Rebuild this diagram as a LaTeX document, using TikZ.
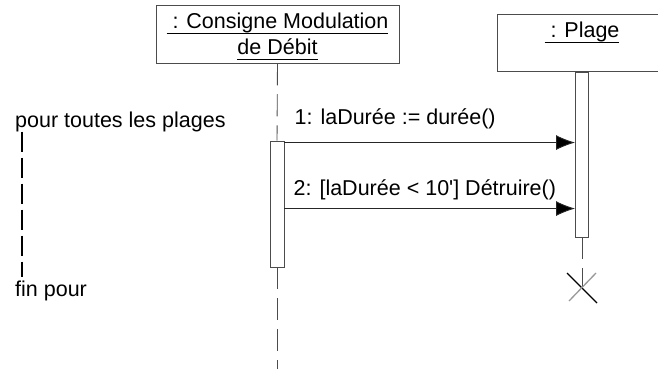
\documentclass[tikz,border=0pt]{standalone}
\usepackage{fontspec}
\setmainfont{Liberation Sans}
\usepackage{tikz}
\usetikzlibrary{calc,positioning}
\usetikzlibrary{arrows.meta}
\newcommand{\objul}[1]{\underline{\raisebox{0pt}[\height][3pt]{#1}}}
\tikzset{
object_box/.style={rectangle, draw=black!70, line width=0.9pt, align=center, inner sep=0pt, font=\fontsize{21.5}{26}\selectfont},
activation/.style={rectangle, draw=black!70, line width=0.9pt, fill=white, inner sep=0pt},
lifeline/.style={draw=black!70, line width=0.9pt, dash pattern=on 22pt off 9pt},
message/.style={draw=black!85, line width=0.9pt, -{Latex[length=19pt,width=15pt,fill=black]}},
msg_label/.style={inner sep=0pt, font=\fontsize{21.5}{26}\selectfont},
loop_text/.style={inner sep=0pt, anchor=west, font=\fontsize{21.5}{26}\selectfont},
loop_line/.style={draw=black, line width=1.4pt, dash pattern=on 20pt off 6pt},
destroy/.style={draw=black, line width=1.3pt}
}

\begin{document}
\begin{tikzpicture}[x=1pt,y=-1pt]
    \useasboundingbox (0,0) rectangle (658,369);
    \node[object_box, minimum width=243pt, minimum height=58pt] (consigne) at (277.5,34) {\rule{0pt}{21pt}\objul{\ : Consigne Modulation}\\\objul{de Débit}};
    \node[object_box, minimum width=170pt, minimum height=57pt, text depth=27pt] (plage) at (582,43.4) {\objul{\ : Plage}};
    \node[activation, minimum width=14pt, minimum height=126pt] (act_consigne) at (277,204) {};
    \node[activation, minimum width=13pt, minimum height=165pt] (act_plage) at (582,154.5) {};
    \coordinate (consigne_end) at (277,369);
    \coordinate (plage_end) at (582,288);
    \draw[lifeline] (consigne.south) -- (act_consigne.north);
    \draw[lifeline] (act_consigne.south) -- (consigne_end);
    \draw[lifeline] (act_plage.south) -- (plage_end);
    \draw[destroy] ($(plage_end)+(-15,-15)$) -- ($(plage_end)+(15,15)$);
    \draw[destroy, draw=black!40] ($(plage_end)+(-13,13)$) -- ($(plage_end)+(14,-15)$);
    \coordinate (msg_one) at ([yshift=-2pt]act_consigne.north east);
    \coordinate (msg_two) at ([yshift=-68pt]act_consigne.north east);
    \draw[message] (msg_one) -- (msg_one -| act_plage.west);
    \draw[message] (msg_two) -- (msg_two -| act_plage.west);
    \node[msg_label, above right=13pt and 10pt of msg_one] (label_one) {1: laDurée := durée()};
    \node[msg_label, above right=8pt and 9pt of msg_two] (label_two) {2: [laDurée < 10\textquotesingle] Détruire()};
    \node[loop_text] (loop_start) at (15,121.5) {pour toutes les plages};
    \node[loop_text] (loop_end) at (15,291) {fin pour};
    \draw[loop_line, shorten >=4pt] ([xshift=7pt]loop_start.south west) -- ([xshift=7pt]loop_end.north west);
\end{tikzpicture}
\end{document}
